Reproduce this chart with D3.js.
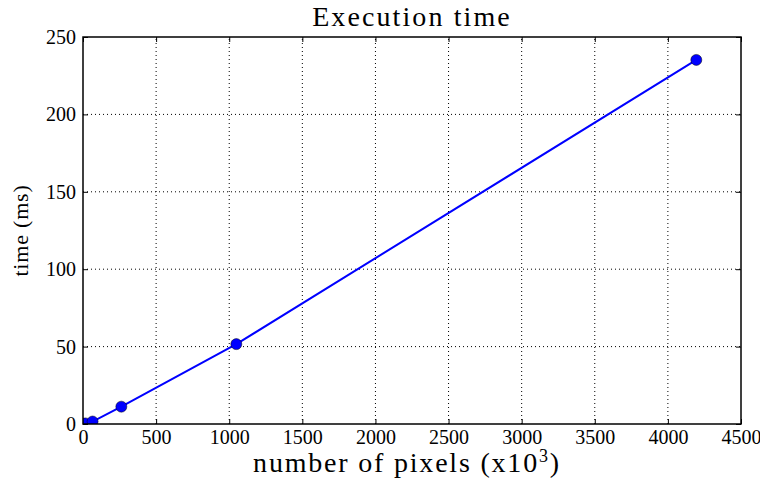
<!DOCTYPE html>
<html><head><meta charset="utf-8">
<script src="https://cdn.jsdelivr.net/npm/d3@7"></script>
<style>
html,body{margin:0;padding:0;background:#fff;}
svg{display:block;}
text{font-family:"Liberation Serif","DejaVu Serif",serif;fill:#000;}
</style></head>
<body>
<script>
const pixelsK = [4.096, 16.384, 65.536, 262.144, 1048.576, 4194.304];
const timeMs = [0.1, 0.4, 1.6, 11.2, 51.6, 235.2];
const xTicks = [0, 500, 1000, 1500, 2000, 2500, 3000, 3500, 4000, 4500];
const yTicks = [0, 50, 100, 150, 200, 250];

const W = 760, H = 485;
const m = {left: 83, right: 19, top: 37, bottom: 61};
const svg = d3.select("body").append("svg").attr("width", W).attr("height", H);
const x = d3.scaleLinear().domain([0, 4500]).range([m.left, W - m.right]);
const y = d3.scaleLinear().domain([0, 250]).range([H - m.bottom, m.top]);

// grid
const g = svg.append("g");
g.selectAll(".gx").data(xTicks.slice(1, -1)).join("line")
  .attr("x1", d => x(d)).attr("x2", d => x(d)).attr("y1", y(0)).attr("y2", y(250))
  .attr("stroke", "#000").attr("stroke-width", 1).attr("stroke-dasharray", "1,3");
g.selectAll(".gy").data(yTicks.slice(1, -1)).join("line")
  .attr("y1", d => y(d)).attr("y2", d => y(d)).attr("x1", x(0)).attr("x2", x(4500))
  .attr("stroke", "#000").attr("stroke-width", 1).attr("stroke-dasharray", "1,3");

// axes with inward ticks
const ax = svg.append("g").attr("transform", `translate(0,${y(0)})`)
  .call(d3.axisBottom(x).tickValues(xTicks).tickFormat(d3.format("d")).tickSizeInner(-5).tickSizeOuter(0).tickPadding(6));
const ay = svg.append("g").attr("transform", `translate(${x(0)},0)`)
  .call(d3.axisLeft(y).tickValues(yTicks).tickFormat(d3.format("d")).tickSizeInner(-5).tickSizeOuter(0).tickPadding(7));
const axt = svg.append("g").attr("transform", `translate(0,${y(250)})`)
  .call(d3.axisTop(x).tickValues(xTicks).tickFormat("").tickSizeInner(-5).tickSizeOuter(0));
const ayr = svg.append("g").attr("transform", `translate(${x(4500)},0)`)
  .call(d3.axisRight(y).tickValues(yTicks).tickFormat("").tickSizeInner(-5).tickSizeOuter(0));
[ax, ay, axt, ayr].forEach(a => {
  a.select(".domain").remove();
  a.selectAll("text").style("font-size", "20px").attr("fill", "#000").style("font-family", '"Liberation Serif",serif');
  a.selectAll("line").attr("stroke", "#000");
});
ax.selectAll("text").attr("dy", "0.71em");

// data
const clipId = "plotclip";
svg.append("clipPath").attr("id", clipId).append("rect")
  .attr("x", x(0)).attr("y", y(250)).attr("width", x(4500) - x(0)).attr("height", y(0) - y(250));
const data = pixelsK.map((p, i) => ({p, t: timeMs[i]}));
const pg = svg.append("g").attr("clip-path", `url(#${clipId})`);
pg.append("path").datum(data)
  .attr("d", d3.line().x(d => x(d.p)).y(d => y(d.t)))
  .attr("fill", "none").attr("stroke", "#0000ff").attr("stroke-width", 2);
pg.selectAll("circle").data(data).join("circle")
  .attr("cx", d => x(d.p)).attr("cy", d => y(d.t)).attr("r", 5.5)
  .attr("fill", "#0000ff").attr("stroke", "#000").attr("stroke-width", 0.5);

// frame
svg.append("rect").attr("x", x(0)).attr("y", y(250)).attr("width", x(4500) - x(0)).attr("height", y(0) - y(250))
  .attr("fill", "none").attr("stroke", "#000").attr("stroke-width", 1.5);

// titles
svg.append("text").attr("x", (x(0) + x(4500)) / 2).attr("y", 26).attr("text-anchor", "middle")
  .style("font-size", "28px").style("letter-spacing", "2.1px").text("Execution time");
const xl = svg.append("text").attr("x", (x(0) + x(4500)) / 2 - 5).attr("y", 472).attr("text-anchor", "middle")
  .style("font-size", "28px").style("letter-spacing", "1.8px");
xl.append("tspan").text("number of pixels (x10");
xl.append("tspan").attr("dy", -10).style("font-size", "18px").text("3");
xl.append("tspan").attr("dy", 10).text(")");
svg.append("text").attr("transform", `translate(28,${(y(0) + y(250)) / 2}) rotate(-90)`)
  .attr("text-anchor", "middle").style("font-size", "22px").style("letter-spacing", "0.8px").text("time (ms)");
</script>
</body></html>
